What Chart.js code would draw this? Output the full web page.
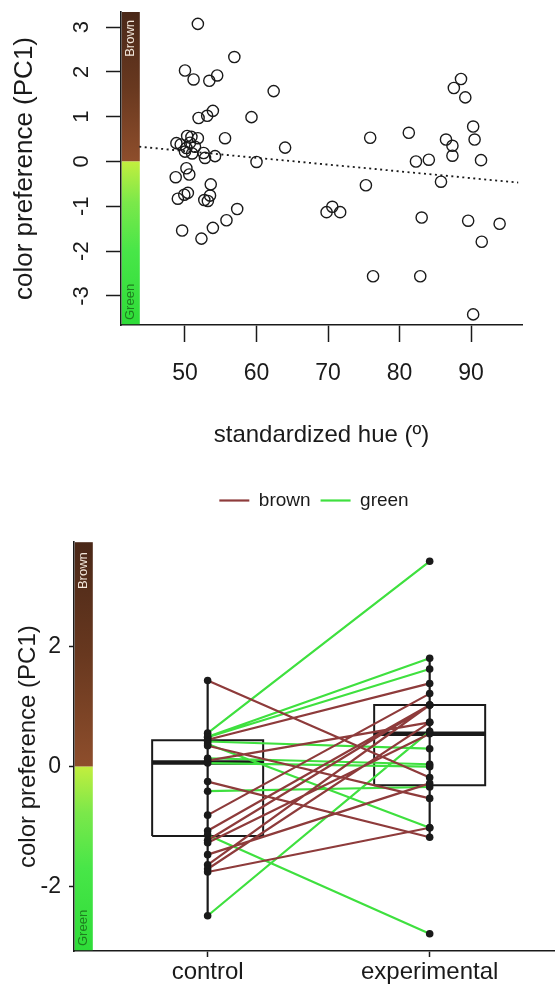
<!DOCTYPE html>
<html>
<head>
<meta charset="utf-8">
<script src="https://cdn.jsdelivr.net/npm/chart.js@4.4.7/dist/chart.umd.min.js"></script>
<style>
*{margin:0;padding:0;box-sizing:border-box}
body{width:558px;height:984px;background:#fff;position:relative;overflow:hidden}
#top{position:absolute;left:0;top:0}
#bot{position:absolute;left:0;top:460px}
</style>
</head>
<body>
<canvas id="top" width="558" height="460"></canvas>
<canvas id="bot" width="558" height="524"></canvas>
<script>
// --- top panel: preference vs hue ---
const hue = [51.8,56.9,50.0,51.2,53.4,54.5,62.4,51.9,53.1,53.9,59.3,55.6,64.0,60.0,
  48.8,49.4,50.3,50.9,51.8,50.2,50.7,51.4,50.0,51.0,52.6,54.2,52.8,
  50.2,50.6,48.7,53.6,49.0,49.9,50.4,53.5,52.7,53.2,57.3,55.8,53.9,49.6,52.3,
  88.6,87.6,89.2,90.3,90.5,91.4,75.9,81.3,86.5,87.4,87.4,82.3,84.1,85.8,75.3,69.8,70.6,71.7,83.1,89.6,94.0,91.5,76.3,82.9,90.3];
const pc1 = [3.07,2.33,2.03,1.83,1.80,1.92,1.57,0.97,1.02,1.13,0.99,0.52,0.31,-0.01,
  0.41,0.38,0.57,0.55,0.52,0.30,0.42,0.33,0.22,0.18,0.19,0.12,0.08,
  -0.15,-0.29,-0.35,-0.51,-0.83,-0.74,-0.70,-0.76,-0.86,-0.88,-1.06,-1.31,-1.48,-1.54,-1.72,
  1.84,1.64,1.43,0.78,0.49,0.03,0.53,0.64,0.49,0.35,0.13,0.00,0.04,-0.45,-0.53,-1.13,-1.01,-1.13,-1.25,-1.32,-1.39,-1.79,-2.56,-2.56,-3.41];
const trendHue = [43.6, 96.6];
const trendPc1 = [0.33, -0.47];
const hueTicks = [50, 60, 70, 80, 90];
const pcTicksTop = [-3, -2, -1, 0, 1, 2, 3];

// --- bottom panel: paired control / experimental ---
const groups = ['control', 'experimental'];
const ctrl = [1.44,0.56,0.50,0.49,0.45,0.42,0.38,0.35,0.14,0.10,0.06,-0.25,-0.41,-0.81,-1.07,-1.14,-1.23,-1.27,-1.47,-1.64,-1.71,-1.76,-2.49];
const expt = [-0.18,3.43,1.81,1.63,1.39,0.30,-1.02,-0.53,0.04,0.74,0.00,-1.18,-0.34,1.22,1.03,-2.79,1.03,0.55,-0.28,1.03,0.74,-1.02,0.59];
const pairColor = ['brown','green','green','green','brown','green','green','brown','green','brown','green','brown','green','brown','brown','green','brown','brown','brown','brown','brown','brown','green'];
const boxQ1 = [-1.16, -0.31];
const boxMed = [0.07, 0.55];
const boxQ3 = [0.44, 1.03];
const whiskLo = [-2.49, -1.18];
const whiskHi = [1.44, 1.81];
const pcTicksBot = [-2, 0, 2];

const INK = '#1a1a1a';
const lineCols = { brown: '#8e3b3b', green: '#3fe03f' };
Chart.defaults.font.family = '"Liberation Sans", Arial, sans-serif';
Chart.defaults.color = INK;

// colour strip along the y axis + rotated tick labels (top panel)
const decor = {
  id: 'decor',
  beforeDatasetsDraw(chart, args, opts) {
    const { ctx, chartArea: ca } = chart;
    const y = chart.scales.y;
    const x0 = ca.left + 0.8, w = 18;
    const y0 = y.getPixelForValue(0);
    ctx.save();
    let g = ctx.createLinearGradient(0, ca.top, 0, y0);
    g.addColorStop(0, '#4a2818');
    g.addColorStop(0.5, '#68381f');
    g.addColorStop(1, '#8e4e2c');
    ctx.fillStyle = g;
    ctx.fillRect(x0, ca.top, w, y0 - ca.top);
    g = ctx.createLinearGradient(0, y0, 0, ca.bottom);
    g.addColorStop(0, '#c2ee3e');
    g.addColorStop(0.25, '#7be84a');
    g.addColorStop(0.55, '#48e648');
    g.addColorStop(1, '#2edc38');
    ctx.fillStyle = g;
    ctx.fillRect(x0, y0, w, ca.bottom - 0.8 - y0);
    ctx.font = '13px "Liberation Sans", Arial, sans-serif';
    ctx.textBaseline = 'middle';
    ctx.translate(x0 + w / 2, 0);
    ctx.rotate(-Math.PI / 2);
    ctx.fillStyle = '#f1e6da';
    ctx.textAlign = 'right';
    ctx.fillText('Brown', -(ca.top + opts.brownGap), 0);
    ctx.fillStyle = '#1f7d1f';
    ctx.textAlign = 'left';
    ctx.fillText('Green', -(ca.bottom - 5), 0);
    ctx.restore();
  },
  afterDraw(chart, args, opts) {
    if (!opts.rotatedTicks) return;
    const { ctx } = chart;
    const y = chart.scales.y;
    ctx.save();
    ctx.font = '22px "Liberation Sans", Arial, sans-serif';
    ctx.fillStyle = INK;
    ctx.textAlign = 'center';
    ctx.textBaseline = 'middle';
    y.ticks.forEach(t => {
      ctx.save();
      ctx.translate(opts.labelX, y.getPixelForValue(t.value));
      ctx.rotate(-Math.PI / 2);
      ctx.fillText(String(t.value), 0, 0);
      ctx.restore();
    });
    ctx.restore();
  }
};

const axisGrid = len => ({ drawOnChartArea: false, drawTicks: true, tickLength: len, tickColor: INK, tickWidth: 1.5 });
const axisBorder = { display: true, color: INK, width: 1.6 };

new Chart(document.getElementById('top'), {
  type: 'scatter',
  data: {
    datasets: [{
      data: hue.map((h, i) => ({ x: h, y: pc1[i] })),
      pointRadius: 5.6,
      pointBorderWidth: 1.4,
      borderColor: INK,
      backgroundColor: 'rgba(0,0,0,0)',
      order: 0
    }, {
      data: trendHue.map((h, i) => ({ x: h, y: trendPc1[i] })),
      showLine: true,
      pointRadius: 0,
      borderColor: INK,
      borderWidth: 1.8,
      borderDash: [2, 3.5],
      order: 1
    }]
  },
  options: {
    responsive: false,
    animation: false,
    events: [],
    layout: { padding: { top: 12, right: 36, bottom: 10, left: 0 } },
    plugins: {
      legend: { display: false },
      tooltip: { enabled: false },
      decor: { rotatedTicks: true, labelX: 82, brownGap: 8 }
    },
    scales: {
      x: {
        type: 'linear', min: 41.05, max: 97.13,
        afterBuildTicks: s => { s.ticks = hueTicks.map(v => ({ value: v })); },
        afterFit: s => { s.height = 125; },
        ticks: { font: { size: 23 }, color: INK, padding: 18 },
        grid: axisGrid(17),
        border: axisBorder,
        title: { display: true, text: 'standardized hue (º)', font: { size: 24 }, color: INK, padding: { top: 0, bottom: 0 } }
      },
      y: {
        type: 'linear', min: -3.647, max: 3.335,
        afterBuildTicks: s => { s.ticks = pcTicksTop.map(v => ({ value: v })); },
        afterFit: s => { s.width = 121; },
        ticks: { display: false },
        grid: axisGrid(15),
        border: axisBorder,
        title: { display: true, text: 'color preference (PC1)', font: { size: 26 }, color: INK, padding: { top: 9, bottom: 0 } }
      }
    }
  },
  plugins: [decor]
});

// build paired lines, split by colour, with gaps between pairs
function pairLines(col) {
  const pts = [];
  ctrl.forEach((c, i) => {
    if (pairColor[i] !== col) return;
    pts.push({ x: 1, y: c }, { x: 2, y: expt[i] }, { x: 1.5, y: null });
  });
  return pts;
}
const boxPts = [], medPts = [], whiskPts = [];
const HALF = 0.25;
groups.forEach((g, i) => {
  const x = i + 1;
  boxPts.push({ x: x - HALF, y: boxQ1[i] }, { x: x + HALF, y: boxQ1[i] }, { x: x + HALF, y: boxQ3[i] },
    { x: x - HALF, y: boxQ3[i] }, { x: x - HALF, y: boxQ1[i] }, { x: x, y: null });
  medPts.push({ x: x - HALF, y: boxMed[i] }, { x: x + HALF, y: boxMed[i] }, { x: x, y: null });
  whiskPts.push({ x: x, y: whiskLo[i] }, { x: x, y: whiskHi[i] }, { x: x + 0.5, y: null });
});

new Chart(document.getElementById('bot'), {
  type: 'scatter',
  data: {
    datasets: [
      { label: 'brown', inLegend: true, data: pairLines('brown'), showLine: true, pointRadius: 0, borderColor: lineCols.brown, backgroundColor: lineCols.brown, borderWidth: 2.2, order: 2 },
      { label: 'green', inLegend: true, data: pairLines('green'), showLine: true, pointRadius: 0, borderColor: lineCols.green, backgroundColor: lineCols.green, borderWidth: 2.2, order: 2 },
      { label: 'box', data: boxPts, showLine: true, pointRadius: 0, borderColor: INK, borderWidth: 2, order: 3 },
      { label: 'median', data: medPts, showLine: true, pointRadius: 0, borderColor: INK, borderWidth: 4.5, order: 3 },
      { label: 'whisker', data: whiskPts, showLine: true, pointRadius: 0, borderColor: INK, borderWidth: 2.2, order: 1 },
      { label: 'ctrl', data: ctrl.map(v => ({ x: 1, y: v })), pointRadius: 3.8, pointBorderWidth: 0, backgroundColor: INK, order: 0 },
      { label: 'expt', data: expt.map(v => ({ x: 2, y: v })), pointRadius: 3.8, pointBorderWidth: 0, backgroundColor: INK, order: 0 }
    ]
  },
  options: {
    responsive: false,
    animation: false,
    events: [],
    layout: { padding: { top: 21, right: 0, bottom: 0, left: 0 } },
    plugins: {
      legend: {
        display: true, position: 'top', fullSize: false,
        labels: {
          usePointStyle: true, pointStyle: 'line', pointStyleWidth: 30,
          font: { size: 19 }, color: INK, padding: 10,
          filter: (item, data) => !!data.datasets[item.datasetIndex].inLegend
        }
      },
      subtitle: { display: true, text: '', position: 'top', fullSize: false, weight: 500, font: { size: 1 }, padding: { top: 0, bottom: 21 } },
      tooltip: { enabled: false },
      decor: { rotatedTicks: false, brownGap: 10 }
    },
    scales: {
      x: {
        type: 'linear', min: 0.398, max: 2.56,
        afterBuildTicks: s => { s.ticks = groups.map((g, i) => ({ value: i + 1 })); },
        afterFit: s => { s.height = 33; },
        ticks: { font: { size: 24 }, color: INK, padding: 1, callback: v => groups[v - 1] },
        grid: axisGrid(6),
        border: axisBorder
      },
      y: {
        type: 'linear', min: -3.079, max: 3.749,
        afterBuildTicks: s => { s.ticks = pcTicksBot.map(v => ({ value: v })); },
        afterFit: s => { s.width = 74; },
        ticks: { font: { size: 23 }, color: INK, padding: 8 },
        grid: axisGrid(5),
        border: axisBorder,
        title: { display: true, text: 'color preference (PC1)', font: { size: 24 }, color: INK, padding: { top: 14, bottom: 0 } }
      }
    }
  },
  plugins: [decor]
});
</script>
</body>
</html>
